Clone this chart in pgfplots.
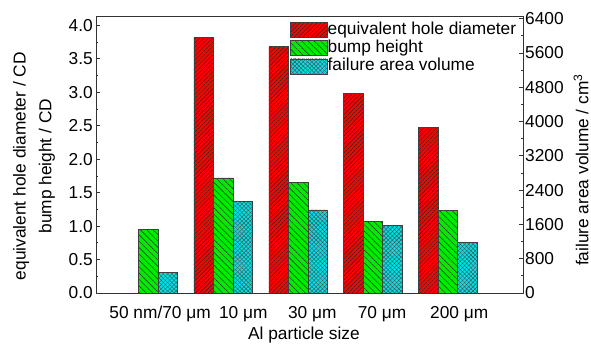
\documentclass[border=0pt]{standalone}
\usepackage{pgfplots}
\pgfplotsset{compat=1.18}
\usepackage{fontspec}
\setmainfont{Liberation Sans}
\usetikzlibrary{patterns,patterns.meta}
\definecolor{barred}{RGB}{255,0,0}
\definecolor{bargreen}{RGB}{0,235,0}
\definecolor{barcyan}{RGB}{0,225,230}
\newcommand{\fs}{\fontsize{17.3}{20.8}\selectfont}
\pgfplotsset{
  redbar/.style={fill=barred, draw=black!75, line width=0.6pt,
    postaction={pattern={Lines[angle=45,distance=3pt,line width=0.45pt]}, pattern color=black!85}},
  greenbar/.style={fill=bargreen, draw=black!75, line width=0.6pt,
    postaction={pattern={Lines[angle=-45,distance=4.5pt,line width=0.45pt]}, pattern color=black!85}},
  cyanbar/.style={fill=barcyan, draw=black!75, line width=0.6pt,
    postaction={pattern={Lines[angle=45,distance=3pt,line width=0.4pt]}, pattern color=black!70},
    postaction={pattern={Lines[angle=-45,distance=3pt,line width=0.4pt]}, pattern color=black!70}},
  common/.style={
    width=427pt, height=277pt, scale only axis,
    xmin=0.305, xmax=6.0,
    axis line style={draw=black!80, line width=0.8pt},
    tick style={draw=black!80, line width=0.7pt},
    tick align=inside,
    major tick length=4pt, minor tick length=2.5pt,
    tick label style={font=\fs},
    label style={font=\fs},
    /pgf/number format/assume math mode=true,
  },
}
\begin{document}
\begin{tikzpicture}
\begin{axis}[common,
  ybar, bar width=19.5pt,
  ymin=0, ymax=4.14,
  ytick={0,0.5,...,4.0}, minor y tick num=1,
  ytick pos=left,
  yticklabel style={/pgf/number format/.cd, fixed, fixed zerofill, precision=1, /tikz/.cd, anchor=east, inner xsep=0pt, xshift=-3pt},
  xtick={1.16,2.27,3.19,4.12,5.15},
  xticklabels={50 nm/70 μm,10 μm,30 μm,70 μm,200 μm},
  xtick pos=bottom,
  x tick style={draw=none},
  xticklabel style={anchor=base, yshift=-22pt},
  xlabel={Al particle size},
  xlabel style={at={(axis description cs:0.487,-0.15)}, anchor=center},
  ylabel={equivalent hole diameter / CD\\[5pt]bump height / CD},
  ylabel style={at={(axis description cs:-0.145,0.458)}, anchor=center, align=center},
]
\addplot[redbar, bar shift=-19.5pt] coordinates {(2,3.82) (3,3.68) (4,2.985) (5,2.47)};
\addplot[greenbar, bar shift=0pt] coordinates {(1,0.95) (2,1.72) (3,1.65) (4,1.066) (5,1.23)};
\end{axis}
\begin{axis}[common,
  ybar, bar width=19.5pt,
  ymin=0, ymax=6460,
  axis y line*=right, axis x line=none,
  ytick={0,800,...,6400}, minor y tick num=1,
  yticklabel style={/pgf/number format/.cd, 1000 sep={}, /tikz/.cd, anchor=west, inner xsep=0pt, xshift=2pt},
  ylabel={failure area volume / cm\textsuperscript{3}},
  ylabel style={at={(axis description cs:1.136,0.444)}, anchor=center, rotate=0},
  legend style={at={(axis description cs:0.454,0.98)}, anchor=north west, draw=none, fill=none,
    font=\fs, inner sep=0pt, column sep=0pt, row sep=2.3pt,
    nodes={inner sep=0pt, text height=12.5pt, text depth=3.5pt}},
  legend cell align=left,
  legend image code/.code={\draw[#1] (0pt,-7.5pt) rectangle (37pt,7.5pt);},
]
\addlegendimage{redbar}
\addlegendentry{equivalent hole diameter}
\addlegendimage{greenbar}
\addlegendentry{bump height}
\addplot[cyanbar, bar shift=19.5pt] coordinates {(1,480) (2,2130) (3,1936) (4,1570) (5,1183)};
\addlegendentry{failure area volume}
\end{axis}
\pgfresetboundingbox
\path ([shift={(-96pt,-51pt)}]current axis.south west) rectangle ([shift={(68pt,16pt)}]current axis.north east);
\end{tikzpicture}
\end{document}
